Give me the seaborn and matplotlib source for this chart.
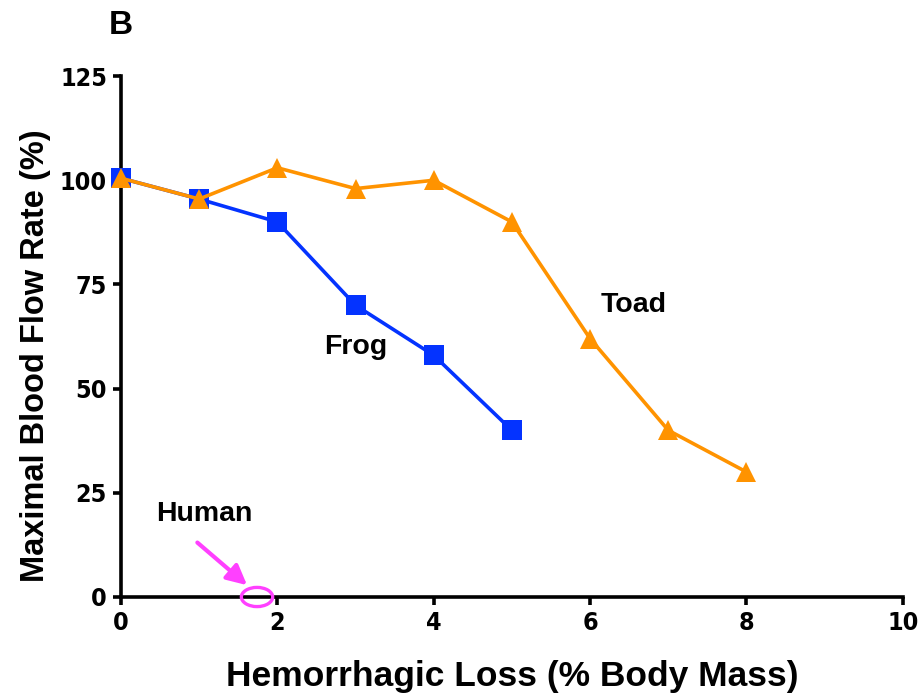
import matplotlib
matplotlib.use("Agg")
import matplotlib.pyplot as plt
import seaborn as sns
import pandas as pd
from matplotlib.patches import Ellipse

frog_x = [0, 1, 2, 3, 4, 5]
frog_y = [100.5, 95.5, 90, 70, 58, 40]
toad_x = [0, 1, 2, 3, 4, 5, 6, 7, 8]
toad_y = [100.5, 95.5, 103, 98, 100, 90, 62, 40, 30]
x_ticks = [0, 2, 4, 6, 8, 10]
y_ticks = [0, 25, 50, 75, 100, 125]

sns.set_style("ticks", {"axes.edgecolor": "black", "text.color": "black",
                        "axes.labelcolor": "black", "xtick.color": "black",
                        "ytick.color": "black"})
plt.rcParams['font.family'] = ['Liberation Sans', 'DejaVu Sans']

df = pd.concat([
    pd.DataFrame({"x": frog_x, "y": frog_y, "species": "Frog"}),
    pd.DataFrame({"x": toad_x, "y": toad_y, "species": "Toad"}),
])

fig = plt.figure(figsize=(9.22, 6.98), dpi=100)
ax = fig.add_axes([0.1312, 0.1447, 0.848, 0.7463])

sns.lineplot(data=df, x="x", y="y", hue="species", style="species",
             palette={"Frog": "#0433FF", "Toad": "#FF9300"},
             markers={"Frog": "s", "Toad": "^"}, dashes=False,
             markersize=14, linewidth=2.6, markeredgewidth=0,
             legend=False, ax=ax, zorder=3)

ax.set_xlim(0, 10)
ax.set_ylim(0, 125)
ax.set_xticks(x_ticks)
ax.set_yticks(y_ticks)
for s in ["top", "right"]:
    ax.spines[s].set_visible(False)
for s in ["left", "bottom"]:
    ax.spines[s].set_linewidth(2.6)
    ax.spines[s].set_clip_on(False)
ax.tick_params(width=2.6, length=6, direction="out", pad=4, colors="black")
for lab in ax.get_xticklabels() + ax.get_yticklabels():
    lab.set_fontfamily(['DejaVu Sans'])
    lab.set_fontstretch("condensed")
    lab.set_fontweight("bold")
    lab.set_fontsize(18)
for ln in ax.lines:
    ln.set_clip_on(False)

ax.set_xlabel("Hemorrhagic Loss (% Body Mass)", fontsize=25.5, fontweight="bold", labelpad=18)
ax.set_ylabel("Maximal Blood Flow Rate (%)", fontsize=23.5, fontweight="bold")
ax.yaxis.set_label_coords(-0.09, 0.464)

ax.text(3.0, 60, "Frog", fontsize=20.5, fontweight="bold", ha="center", va="center")
ax.text(6.56, 70, "Toad", fontsize=20.5, fontweight="bold", ha="center", va="center")
ax.text(1.07, 20, "Human", fontsize=20.5, fontweight="bold", ha="center", va="center")

ell = Ellipse((1.74, 0), 0.4, 4.6, fill=False, edgecolor="#FF40FF", linewidth=2.4,
              zorder=5, clip_on=False)
ax.add_patch(ell)
ax.annotate("", xy=(1.64, 2.4), xytext=(0.95, 13.5),
            arrowprops=dict(arrowstyle="-|>,head_length=1.2,head_width=0.6",
                            color="#FF40FF", lw=3.0))

fig.text(121/922, 1 - 26/698, "B", fontsize=24, fontweight="bold", ha="center", va="center")

fig.savefig("out.png", dpi=100)
